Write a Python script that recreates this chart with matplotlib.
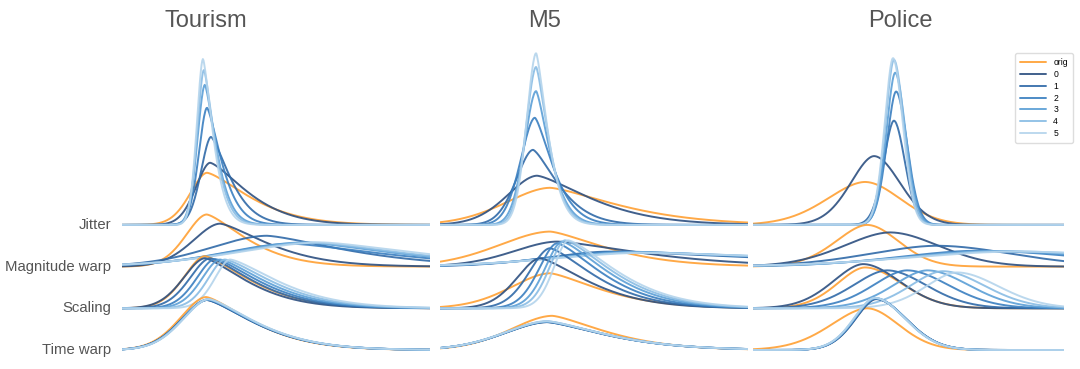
import numpy as np
import matplotlib
matplotlib.use("Agg")
import matplotlib.pyplot as plt

plt.rcParams['font.family'] = ['Liberation Sans', 'DejaVu Sans']

datasets = ["Tourism", "M5", "Police"]
rows = ["Jitter", "Magnitude warp", "Scaling", "Time warp"]
series = ["orig", "0", "1", "2", "3", "4", "5"]
colors = ["#ffa033", "#2c4f80", "#2f69a8", "#3a7fc0", "#5b9fd6", "#88bce4", "#b4d4ec"]

# per dataset, per row (Jitter, Magnitude warp, Scaling, Time warp): 7 curves (orig, 0..5)
# peak position (0-100), peak height (in row spacings), left / right half widths
tourism_peak = [[27.6, 28.6, 28.9, 27.6, 26.9, 26.6, 26.3],
                [27.5, 31.8, 47.0, 55.0, 59.0, 62.0, 65.0],
                [26.9, 26.9, 28.6, 30.2, 31.8, 33.4, 35.1],
                [27.3, 27.6, 27.6, 27.8, 28.0, 28.0, 28.2]]
tourism_height = [[1.25, 1.49, 2.11, 2.81, 3.36, 3.72, 3.98],
                  [1.25, 1.03, 0.74, 0.55, 0.58, 0.58, 0.58],
                  [1.25, 1.20, 1.20, 1.18, 1.17, 1.17, 1.17],
                  [1.27, 1.20, 1.20, 1.21, 1.21, 1.22, 1.22]]
tourism_wl = [[6.5, 5.5, 3.9, 3.2, 2.9, 2.6, 2.4],
              [8.0, 10.4, 22, 26, 28, 30, 32],
              [8.0, 8.3, 7.8, 7.2, 7.0, 6.5, 6.0],
              [10, 10, 10, 10, 10, 10, 10]]
tourism_wr = [[15, 13, 6.8, 5.2, 4.2, 3.9, 3.6],
              [14, 17, 28, 34, 34, 34, 36],
              [16, 15, 15.5, 16, 16.5, 17, 17.5],
              [16.5, 17, 17, 17, 17, 17, 17]]

m5_peak = [[35.7, 31.5, 30.2, 30.8, 31.2, 31.2, 31.2],
           [35.7, 38.0, 55, 60, 62, 64, 66],
           [35.7, 32.5, 35.7, 38.0, 39.6, 40.6, 41.6],
           [36.4, 34.8, 34.8, 34.8, 34.8, 34.8, 34.8]]
m5_height = [[0.89, 1.18, 1.80, 2.57, 3.21, 3.79, 4.12],
             [0.84, 0.60, 0.36, 0.36, 0.35, 0.34, 0.33],
             [0.84, 1.20, 1.44, 1.56, 1.60, 1.63, 1.63],
             [0.82, 0.67, 0.67, 0.68, 0.68, 0.69, 0.69]]
m5_wl = [[17, 11.4, 6.5, 5.5, 4.5, 4.0, 3.7],
         [20, 17, 24, 28, 30, 32, 34],
         [15, 9, 8, 7, 6.5, 6, 5.5],
         [16, 16.5, 16.5, 16.5, 16.5, 16.5, 16.5]]
m5_wr = [[24, 19, 9, 6.5, 5, 4.5, 4.2],
         [20, 30.5, 60, 60, 65, 70, 75],
         [18, 17, 16, 16, 16.5, 17, 17.5],
         [19, 21, 21, 21, 21, 21, 21]]

police_peak = [[36.0, 38.9, 45.3, 46.0, 45.7, 45.3, 45.0],
               [36.7, 44.0, 59.0, 72, 76, 80, 84],
               [36.0, 35.4, 43.1, 49.5, 56.0, 61.0, 65.6],
               [36.7, 39.6, 39.5, 39.4, 39.3, 39.2, 39.1]]
police_height = [[1.03, 1.65, 2.50, 3.20, 3.65, 3.96, 4.00],
                 [1.00, 0.82, 0.50, 0.38, 0.37, 0.37, 0.36],
                 [0.98, 1.06, 0.91, 0.91, 0.91, 0.89, 0.86],
                 [1.00, 1.22, 1.23, 1.24, 1.24, 1.25, 1.25]]
police_wl = [[14.5, 9, 3.9, 3.6, 3.4, 3.3, 3.2],
             [12, 17.7, 26, 30, 33, 36, 40],
             [10.6, 11.6, 13, 13, 13, 12.5, 12],
             [13.8, 8, 8, 8, 8, 8, 8]]
police_wr = [[13.5, 10, 4.2, 4.2, 4.0, 3.9, 3.8],
             [12, 18.7, 29, 40, 45, 50, 55],
             [14, 14, 15, 16, 16, 16, 16],
             [12, 11.5, 11.5, 11.5, 11.5, 11.5, 11.5]]

# shape exponent of the right flank (smaller = heavier tail)
tail = [1.4, 1.4, 1.9]


def bump(x, mu, h, wl, wr, q):
    left = np.exp(-np.log(2) * (np.abs(mu - x) / wl) ** 1.8)
    right = np.exp(-np.log(2) * (np.abs(x - mu) / wr) ** q)
    return h * np.where(x < mu, left, right)


params = [(tourism_peak, tourism_height, tourism_wl, tourism_wr),
          (m5_peak, m5_height, m5_wl, m5_wr),
          (police_peak, police_height, police_wl, police_wr)]

W, H = 1080, 369
fig = plt.figure(figsize=(W / 100, H / 100), dpi=100)

col_px = [(122, 430), (440, 748), (753, 1064)]
title_px = [206, 545, 900]
spacing = 41.7
bottom_px, top_px = 356, 40
ylo = (350 - bottom_px) / spacing
yhi = ylo + (bottom_px - top_px) / spacing

x = np.linspace(0, 100, 500)
for k, name in enumerate(datasets):
    l, r = col_px[k]
    ax = fig.add_axes([l / W, (H - bottom_px) / H, (r - l) / W, (bottom_px - top_px) / H])
    pk, ht, wl, wr = params[k]
    for i, row in enumerate(rows):
        off = len(rows) - 1 - i
        for j, s in enumerate(series):
            y = off + bump(x, pk[i][j], ht[i][j], wl[i][j], wr[i][j], tail[k])
            ax.plot(x, y, color=colors[j], lw=1.4, alpha=0.9,
                    label=s if i == 0 else None, solid_capstyle='round')
    ax.set_xlim(0, 100)
    ax.set_ylim(ylo, yhi)
    ax.axis('off')
    fig.text(title_px[k] / W, (H - 21) / H, name, ha='center', va='center',
             fontsize=17, color='#555555')
    if k == 2:
        ax.legend(loc='upper left', bbox_to_anchor=((1011 - l) / (r - l), (bottom_px - 49) / (bottom_px - top_px)),
                  fontsize=6.2, frameon=True, handlelength=3.0, labelspacing=0.32,
                  borderpad=0.6, edgecolor='#dddddd', framealpha=1)

for i, row in enumerate(rows):
    fig.text(111 / W, (H - (225 + i * spacing)) / H, row, ha='right', va='center',
             fontsize=10.7, color='#555555')

fig.savefig("out.png", dpi=100)
